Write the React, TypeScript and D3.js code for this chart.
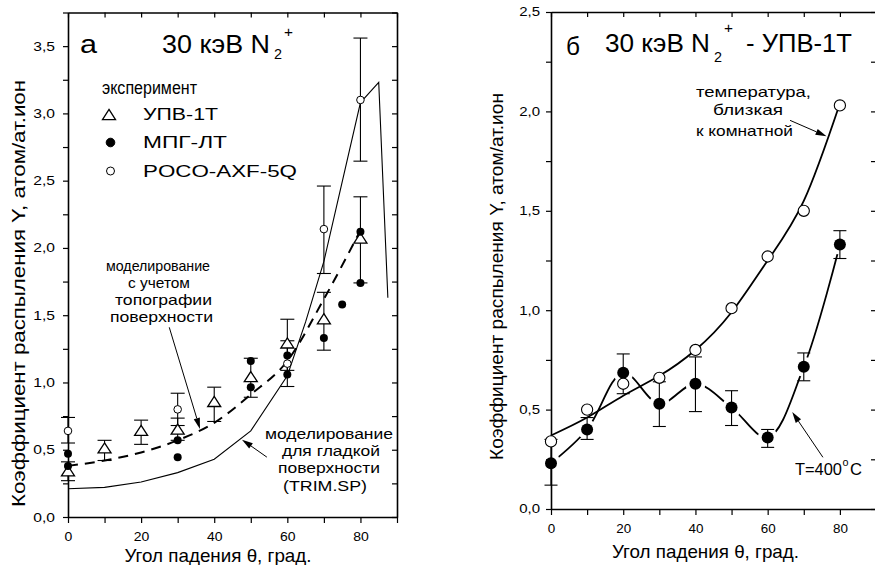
import React, { useEffect, useRef } from "react";
import * as d3 from "d3";

// ---- panel a: 30 keV N2+ on three graphites ----
const upvTheta = [0, 10, 20, 30, 40, 50, 60, 70, 80];
const upvY = [0.34, 0.51, 0.64, 0.65, 0.855, 1.04, 1.29, 1.47, 2.07];
const upvLo = [0.27, 0.42, 0.54, 0.57, 0.71, 0.89, 1.09, 1.24, 1.74];
const upvHi = [0.41, 0.57, 0.72, 0.735, 0.965, 1.18, 1.47, 1.67, 2.38];

const mpgTheta = [0, 0, 30, 30, 50, 50, 60, 60, 70, 75, 80, 80];
const mpgY = [0.47, 0.38, 0.57, 0.445, 1.16, 0.965, 1.2, 1.06, 1.33, 1.58, 2.12, 1.74];

const pocoTheta = [0, 30, 60, 70, 80];
const pocoY = [0.64, 0.8, 1.14, 2.14, 3.1];
const pocoLo = [0.55, 0.68, 0.97, 1.81, 2.645];
const pocoHi = [0.74, 0.92, 1.31, 2.46, 3.56];

// modelling with surface topography (dashed)
const topoTheta = [0, 10, 20, 30, 40, 50, 60, 70, 80];
const topoY = [0.38, 0.42, 0.48, 0.57, 0.7, 0.91, 1.16, 1.62, 2.13];

// TRIM.SP smooth surface (solid)
const trimTheta = [0, 10, 20, 30, 40, 50, 60, 65, 70, 80, 85, 87.5];
const trimY = [0.21, 0.22, 0.26, 0.33, 0.43, 0.64, 1.05, 1.45, 1.9, 3.08, 3.23, 1.63];

// ---- panel б: УПВ-1Т, room temperature vs 400°C ----
const thetaB = [0, 10, 20, 30, 40, 50, 60, 70, 80];
const roomY = [0.34, 0.5, 0.63, 0.66, 0.8, 1.01, 1.27, 1.5, 2.03];
const roomFit = [0.37, 0.46, 0.57, 0.67, 0.8, 0.99, 1.25, 1.55, 2.04];
const hotY = [0.23, 0.4, 0.685, 0.53, 0.63, 0.51, 0.36, 0.715, 1.33];
const hotLo = [0.12, 0.35, 0.58, 0.415, 0.49, 0.42, 0.31, 0.645, 1.26];
const hotHi = [0.35, 0.46, 0.78, 0.64, 0.765, 0.595, 0.4, 0.785, 1.4];

const FONT = "'Liberation Sans', Arial, sans-serif";
const fmt = (v) => d3.format(".1f")(v).replace(".", ",");

// text squeezed/stretched to the width it has in the original
function txt(svg, x, y, s, size, width, anchor = "start") {
  const t = svg.append("text").attr("x", x).attr("y", y).attr("text-anchor", anchor)
    .attr("font-family", FONT).attr("font-size", size).attr("fill", "#000").text(s);
  if (width) t.attr("textLength", width).attr("lengthAdjust", "spacingAndGlyphs");
  return t;
}

function stretchTicks(g, sx) {
  g.selectAll(".tick text").each(function () {
    const t = d3.select(this);
    const x0 = +t.attr("x") || 0;
    t.attr("x", x0 / sx).attr("transform", `scale(${sx},1)`);
  });
}

function frame(svg, x, y, o) {
  const [x0, x1] = x.range();
  const [y0, y1] = y.range();
  const yt = d3.range(0, y.domain()[1] + 0.001, 0.25);
  const xt = d3.range(0, 91, 10);
  const style = (g) => {
    g.select(".domain").attr("stroke", "#000").attr("stroke-width", 1.6);
    g.selectAll(".tick line").attr("stroke", "#000").attr("stroke-width", 1.2);
    g.selectAll("text").attr("fill", "#000").attr("font-family", FONT).attr("font-size", o.tickFont);
  };
  svg.append("g").attr("transform", `translate(${x0},0)`)
    .call(d3.axisLeft(y).tickValues(yt).tickSize(5).tickPadding(o.padL).tickSizeOuter(0)
      .tickFormat((d) => (Math.round(d * 100) % 50 === 0 ? fmt(d) : "")))
    .call(style).call((g) => stretchTicks(g, 1.25));
  svg.append("g").attr("transform", `translate(${x1},0)`)
    .call(d3.axisLeft(y).tickValues(yt).tickSize(5).tickSizeOuter(0).tickFormat(""))
    .call(style);
  svg.append("g").attr("transform", `translate(0,${y0})`)
    .call(d3.axisBottom(x).tickValues(xt).tickSize(6).tickPadding(o.padB).tickSizeOuter(0)
      .tickFormat((d) => (d % 20 === 0 && d < 90 ? d : "")))
    .call(style).call((g) => stretchTicks(g, 1.12));
  svg.append("g").attr("transform", `translate(0,${y1})`)
    .call(d3.axisBottom(x).tickValues(xt).tickSize(5).tickSizeOuter(0).tickFormat(""))
    .call(style);

  txt(svg, o.xtX, o.xtY, "Угол падения θ, град.", 18.5, 187, "middle");
  svg.append("text").attr("transform", `translate(${o.ytX},${o.ytY}) rotate(-90)`)
    .attr("text-anchor", "middle").attr("font-family", FONT).attr("font-size", 18)
    .attr("textLength", o.ytLen).attr("lengthAdjust", "spacingAndGlyphs")
    .text("Коэффициент распыления Y, атом/ат.ион");
}

function errBars(g, x, y, th, lo, hi, cap) {
  th.forEach((t, i) => {
    const cx = x(t);
    g.append("line").attr("x1", cx).attr("x2", cx).attr("y1", y(lo[i])).attr("y2", y(hi[i]));
    [lo[i], hi[i]].forEach((v) =>
      g.append("line").attr("x1", cx - cap).attr("x2", cx + cap).attr("y1", y(v)).attr("y2", y(v)));
  });
  g.attr("stroke", "#000").attr("stroke-width", 1.1);
}

const tri = (cx, cy, s) =>
  `M${cx},${cy - s * 0.85}L${cx + s},${cy + s * 0.7}L${cx - s},${cy + s * 0.7}Z`;

function arrow(svg, x1, y1, x2, y2) {
  const a = Math.atan2(y2 - y1, x2 - x1);
  const L = 11, W = 3.2;
  const bx = x2 - L * Math.cos(a), by = y2 - L * Math.sin(a);
  svg.append("line").attr("x1", x1).attr("y1", y1).attr("x2", bx).attr("y2", by)
    .attr("stroke", "#000").attr("stroke-width", 1);
  svg.append("path")
    .attr("d", `M${x2},${y2}L${bx - W * Math.sin(a)},${by + W * Math.cos(a)}L${bx + W * Math.sin(a)},${by - W * Math.cos(a)}Z`)
    .attr("fill", "#000");
}

// "30 кэВ N₂⁺" built from separate pieces so each can be fitted
function title(svg, x, y, nEnd, subY, supY) {
  txt(svg, x, y, "30 кэВ N", 25.5, nEnd - x);
  txt(svg, nEnd + 4, subY, "2", 15, 8);
  txt(svg, nEnd + 14, supY, "+", 15, 9);
}

function drawA(svg) {
  const x = d3.scaleLinear().domain([0, 90]).range([68, 397]);
  const y = d3.scaleLinear().domain([0, 3.75]).range([517, 12.5]);
  frame(svg, x, y, { tickFont: 12.5, padL: 8, padB: 9, xtX: 218, xtY: 562, ytX: 25, ytY: 293.5, ytLen: 427 });

  const line = d3.line().x((d) => x(d[0])).y((d) => y(d[1]));
  svg.append("path").attr("d", line.curve(d3.curveLinear)(trimTheta.map((t, i) => [t, trimY[i]])))
    .attr("fill", "none").attr("stroke", "#000").attr("stroke-width", 1.1);
  svg.append("path").attr("d", line.curve(d3.curveMonotoneX)(topoTheta.map((t, i) => [t, topoY[i]])))
    .attr("fill", "none").attr("stroke", "#000").attr("stroke-width", 2).attr("stroke-dasharray", "10,7");

  errBars(svg.append("g"), x, y, upvTheta, upvLo, upvHi, 7);
  errBars(svg.append("g"), x, y, pocoTheta, pocoLo, pocoHi, 7);

  upvTheta.forEach((t, i) =>
    svg.append("path").attr("d", tri(x(t), y(upvY[i]), 6.5)).attr("fill", "#fff").attr("stroke", "#000").attr("stroke-width", 1.3));
  mpgTheta.forEach((t, i) =>
    svg.append("circle").attr("cx", x(t)).attr("cy", y(mpgY[i])).attr("r", 4).attr("fill", "#000"));
  pocoTheta.forEach((t, i) =>
    svg.append("circle").attr("cx", x(t)).attr("cy", y(pocoY[i])).attr("r", 3.8).attr("fill", "#fff").attr("stroke", "#000").attr("stroke-width", 1));

  // labels & legend
  txt(svg, 80, 53, "а", 25.5, 17);
  title(svg, 162, 53, 270, 59, 37);
  txt(svg, 102, 94, "эксперимент", 17.5, 95);
  const lg = [
    ["tri", "УПВ-1Т", 115, 120, 75],
    ["fill", "МПГ-ЛТ", 142.5, 148, 84],
    ["open", "POCO-AXF-5Q", 171, 177, 154],
  ];
  lg.forEach(([k, label, cy, by, w]) => {
    if (k === "tri") svg.append("path").attr("d", tri(109, cy, 6.5)).attr("fill", "#fff").attr("stroke", "#000").attr("stroke-width", 1.3);
    else svg.append("circle").attr("cx", 110.5).attr("cy", cy).attr("r", k === "fill" ? 4.3 : 4)
      .attr("fill", k === "fill" ? "#000" : "#fff").attr("stroke", "#000");
    txt(svg, 143, by, label, 17, w);
  });

  txt(svg, 158, 271, "моделирование", 15, 104, "middle");
  txt(svg, 159, 288, "с учетом", 15, 62, "middle");
  txt(svg, 163.5, 305, "топографии", 15, 97, "middle");
  txt(svg, 161.5, 322, "поверхности", 15, 103, "middle");
  arrow(svg, x(27.7), y(1.41), x(36.1), y(0.655));
  txt(svg, 329, 439, "моделирование", 15.5, 128, "middle");
  txt(svg, 331, 456, "для гладкой", 15.5, 98, "middle");
  txt(svg, 329, 473, "поверхности", 15.5, 102, "middle");
  txt(svg, 325, 491, "(TRIM.SP)", 15.5, 84, "middle");
  arrow(svg, x(54.4), y(0.445), x(47.6), y(0.575));
}

function drawB(svg) {
  const x = d3.scaleLinear().domain([0, 90]).range([551, 876]);
  const y = d3.scaleLinear().domain([0, 2.5]).range([509, 12]);
  frame(svg, x, y, { tickFont: 12, padL: 6, padB: 9, xtX: 705.5, xtY: 558, ytX: 503, ytY: 276.5, ytLen: 367 });

  const line = d3.line().x((d) => x(d[0])).y((d) => y(d[1]));
  svg.append("path").attr("d", line.curve(d3.curveNatural)(thetaB.map((t, i) => [t, roomFit[i]])))
    .attr("fill", "none").attr("stroke", "#000").attr("stroke-width", 1.8);

  // 400°C curve, broken around its markers
  const defs = svg.append("defs");
  const mask = defs.append("mask").attr("id", "gapmask").attr("maskUnits", "userSpaceOnUse")
    .attr("x", 0).attr("y", 0).attr("width", 875).attr("height", 565);
  mask.append("rect").attr("width", 875).attr("height", 565).attr("fill", "#fff");
  thetaB.forEach((t, i) => mask.append("circle").attr("cx", x(t)).attr("cy", y(hotY[i])).attr("r", 10).attr("fill", "#000"));
  svg.append("path").attr("d", line.curve(d3.curveCatmullRom.alpha(0.5))(thetaB.map((t, i) => [t, hotY[i]])))
    .attr("fill", "none").attr("stroke", "#000").attr("stroke-width", 1.8).attr("mask", "url(#gapmask)");

  errBars(svg.append("g"), x, y, thetaB, hotLo, hotHi, 6.5);
  thetaB.forEach((t, i) =>
    svg.append("circle").attr("cx", x(t)).attr("cy", y(hotY[i])).attr("r", 6).attr("fill", "#000"));
  thetaB.forEach((t, i) =>
    svg.append("circle").attr("cx", x(t)).attr("cy", y(roomY[i])).attr("r", 5.6).attr("fill", "#fff").attr("stroke", "#000").attr("stroke-width", 1.1));

  txt(svg, 566, 55, "б", 25.5, 14);
  title(svg, 605, 52, 710, 62, 33);
  txt(svg, 746, 52, "- УПВ-1Т", 25.5, 106);
  txt(svg, 753.5, 97, "температура,", 14.5, 115, "middle");
  txt(svg, 748, 115, "близкая", 14.5, 70, "middle");
  txt(svg, 744.5, 136, "к комнатной", 14.5, 97, "middle");
  arrow(svg, x(66.2), y(1.955), x(76.3), y(1.875));
  txt(svg, 795, 475, "T=400", 16, 47);
  txt(svg, 842.5, 466, "o", 10, 6);
  txt(svg, 850, 475, "C", 16, 12);
  arrow(svg, x(75.3), y(0.26), x(66.8), y(0.488));
}

const App = () => {
  const ref = useRef(null);
  useEffect(() => {
    const svg = d3.select(ref.current);
    svg.selectAll("*").remove();
    svg.append("rect").attr("width", 875).attr("height", 565).attr("fill", "#fff");
    drawA(svg);
    drawB(svg);
  }, []);
  return (
    <svg ref={ref} width={875} height={565}
      style={{ position: "absolute", left: 0, top: 0, display: "block" }} />
  );
};

export default App;
